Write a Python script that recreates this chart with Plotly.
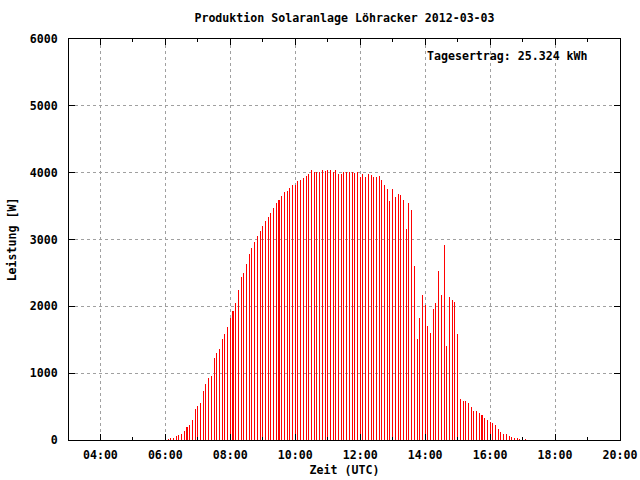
import pandas as pd
import plotly.graph_objects as go

# ---- data (5-minute power values in W) ----
day = "2012-03-03"
red_start = "06:05"
red_values = [
    15, 30, 30, 65, 75, 90, 135, 195, 225, 300,
    465, 510, 555, 735, 840, 930, 960, 1230, 1300, 1360,
    1510, 1585, 1690, 1825, 1930, 2050, 2245, 2440, 2500, 2635,
    2785, 2875, 2965, 3055, 3130, 3205, 3280, 3340, 3400, 3470,
    3545, 3590, 3650, 3710, 3725, 3770, 3815, 3815, 3875, 3890,
    3920, 3950, 3980, 4040, 4010, 4010, 4010, 4040, 4025, 4040,
    4040, 4010, 4040, 3980, 3980, 4010, 4010, 4010, 4010, 3995,
    4010, 3935, 3980, 3935, 3980, 3965, 3935, 3935, 3950, 3890,
    3815, 3755, 3575, 3755, 3635, 3680, 3665, 3590, 3160, 3545,
    3440, 2605, 1510, 1825, 2170, 2020, 1705, 1600, 1960, 2050,
    2530, 2170, 2920, 1405, 2140, 2095, 2065, 1585, 615, 585,
    585, 555, 495, 435, 435, 405, 375, 330, 300, 270,
    255, 225, 165, 120, 90, 90, 60, 45, 30, 30,
    15, None, 15,
]
black_times = ["06:00", "17:00"]
black_values = [60, 30]

x_ticks = ["04:00", "06:00", "08:00", "10:00", "12:00", "14:00", "16:00", "18:00", "20:00"]
y_ticks = [0, 1000, 2000, 3000, 4000, 5000, 6000]

title = "Produktion Solaranlage Löhracker 2012-03-03"
yield_text = "Tagesertrag: 25.324 kWh"

red_times = pd.date_range(f"{day} {red_start}", periods=len(red_values), freq="5min")
black_x = [pd.Timestamp(f"{day} {t}") for t in black_times]

FONT = dict(family="DejaVu Sans Mono", size=11.6, color="black", weight="bold")
BAR_W = 115000  # ms (about 1 px)

fig = go.Figure()
fig.add_trace(go.Bar(x=red_times, y=red_values, width=BAR_W,
                     marker=dict(color="rgba(255,0,0,0.995)", line=dict(width=0)),
                     showlegend=False))
fig.add_trace(go.Bar(x=black_x, y=black_values, width=BAR_W,
                     marker=dict(color="rgba(0,0,0,0.995)", line=dict(width=0)),
                     showlegend=False))

fig.update_layout(
    width=640, height=480,
    margin=dict(l=69, r=20, t=39, b=40, autoexpand=False),
    paper_bgcolor="white", plot_bgcolor="white",
    font=FONT,
    bargap=0, barmode="overlay",
    title=dict(text=title, x=(69 + 620) / 2 / 640, xanchor="center",
               y=1 - 18 / 480, yanchor="middle", font=FONT, automargin=False),
    annotations=[dict(text=yield_text, xref="paper", yref="paper",
                      x=(425 - 69) / 551, y=(440 - 56) / 401,
                      xanchor="left", yanchor="middle", showarrow=False, font=FONT)],
)

fig.update_xaxes(
    type="date", automargin=False,
    range=[f"{day} 03:02", f"{day} 20:00"],
    tickvals=[pd.Timestamp(f"{day} {t}") for t in x_ticks],
    ticktext=x_ticks,
    ticks="inside", ticklen=6, tickcolor="black", tickwidth=1,
    showline=True, linecolor="black", linewidth=1, mirror="ticks",
    showgrid=True, gridcolor="#a0a0a0", griddash="3px,3px", gridwidth=1,
    zeroline=False,
    minor=dict(dtick=3600000, tick0=f"{day} 00:00", ticks="inside", ticklen=3,
               tickcolor="black", showgrid=False),
    ticklabelstandoff=4,
    title=dict(text="Zeit (UTC)", font=FONT, standoff=4),
    tickfont=FONT,
)
fig.update_yaxes(
    automargin=False,
    range=[0, 6000],
    tickvals=y_ticks,
    ticks="inside", ticklen=6, tickcolor="black", tickwidth=1,
    showline=True, linecolor="black", linewidth=1, mirror="ticks",
    showgrid=True, gridcolor="#a0a0a0", griddash="3px,3px", gridwidth=1,
    zeroline=False,
    ticklabelstandoff=8,
    title=dict(text="Leistung [W]", font=FONT, standoff=10),
    tickfont=FONT,
)

fig.write_html("out.html", config={"displayModeBar": False},
               post_script="document.body.style.margin='0px';")
